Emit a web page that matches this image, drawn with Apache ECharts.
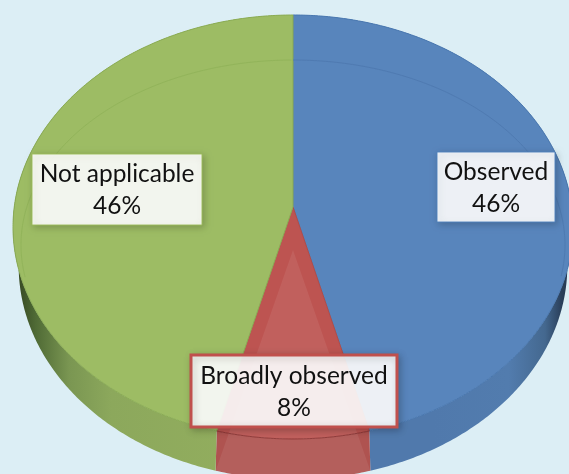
<!DOCTYPE html>
<html><head><meta charset="utf-8">
<style>html,body{margin:0;padding:0;background:#DCEEF5}#c{width:569px;height:474px}</style>
<script src="https://cdn.jsdelivr.net/npm/echarts@6/dist/echarts.min.js"></script>
</head><body><div id="c"></div>
<script>
// Data
const categories = ['Observed', 'Broadly observed', 'Not applicable'];
const shares = [46, 8, 46];
// Styling
const topColors = ['#5885BC', '#BD5451', '#9DBC64'];
const rimColors = ['#4A78B0', '#B04C49', '#8BAC55'];
const ringColors = ['#4F7AB1', '#BD5451', '#92B45A'];
const stripColors = [null, '#C25C59', null];
const wallStops = [
  [[0,'#5079AC'],[0.5,'#5079AC'],[0.77,'#527CAE'],[0.9,'#44688F'],[0.96,'#2A3F5A'],[1,'#22344C']],
  [[0,'#AF5350'],[1,'#AF5350']],
  [[0,'#2F3F1E'],[0.08,'#4F6A35'],[0.2,'#7A9652'],[0.35,'#8CA85C'],[1,'#95B05F']]
];
const labelBoxes = [
  {x:437,y:152,w:118,h:70,line:'rgba(79,129,189,0.9)',lw:1},
  {x:191,y:355,w:206,h:72,line:'#C0504D',lw:3},
  {x:32,y:154,w:170,h:71,line:'rgba(155,187,89,0.9)',lw:1}
];
const bg = '#DCEEF5';
const total = shares.reduce((a,b)=>a+b,0);
const topP = {cx:293,y0:207,A:278.75,B:210.1,k:0.0943};
const botP = {cx:293,y0:238,A:272,B:210,k:0.13};
function proj(p,a){const u=Math.sin(a),v=Math.cos(a),w=1+p.k*v;return [p.cx+p.A*u/w,p.y0-p.B*v/w];}
function arc(p,a0,a1){const n=Math.max(2,Math.ceil(Math.abs(a1-a0)/0.01)),o=[];for(let i=0;i<=n;i++)o.push(proj(p,a0+(a1-a0)*i/n));return o;}
function ringPt(a){return [293+272*Math.sin(a),245-185*Math.cos(a)];}
function renderItem(params,api){
  const i=params.dataIndex;
  let before=0;for(let j=0;j<i;j++)before+=shares[j];
  const a0=before/total*Math.PI*2, a1=(before+api.value(0))/total*Math.PI*2;
  const kids=[];
  const rimTop=arc(topP,a0,a1), rimBot=arc(botP,a1,a0);
  kids.push({type:'polygon',z2:1,shape:{points:rimTop.concat(rimBot)},
    style:{fill:new echarts.graphic.LinearGradient(0,0,1,0,wallStops[i].map(s=>({offset:s[0],color:s[1]})))}});
  kids.push({type:'polygon',z2:2,shape:{points:[[topP.cx,topP.y0]].concat(rimTop)},
    style:{fill:topColors[i],stroke:rimColors[i],lineWidth:1}});
  const lim=100/180*Math.PI, r0=Math.max(a0,0), r1=Math.min(a1,lim), r2=Math.max(a0,2*Math.PI-lim), r3=Math.min(a1,2*Math.PI);
  [[r0,r1],[r2,r3]].forEach(r=>{ if(r[1]>r[0]){const pts=[];for(let t=r[0];t<=r[1];t+=0.01)pts.push(ringPt(t));
    kids.push({type:'polyline',z2:3,shape:{points:pts},style:{fill:null,stroke:ringColors[i],lineWidth:1}});}});
  if(stripColors[i]){
    const bt=arc(botP,a0,a1);
    kids.push({type:'polygon',z2:3,shape:{points:[[topP.cx,250]].concat(bt)},style:{fill:'rgba(255,255,255,0.07)'}});
    kids.push({type:'polyline',z2:3,shape:{points:rimTop},style:{fill:null,stroke:'rgba(120,40,40,0.55)',lineWidth:1}});
  }
  const b=labelBoxes[i];
  kids.push({type:'rect',z2:5,shape:{x:b.x,y:b.y,width:b.w,height:b.h},
    style:{fill:'rgba(255,255,255,0.9)',stroke:b.line,lineWidth:b.lw,shadowBlur:7,shadowColor:'rgba(0,0,0,0.22)',shadowOffsetX:2,shadowOffsetY:2}});
  kids.push({type:'text',z2:6,x:b.x+b.w/2,y:b.y+b.h/2+1,
    style:{text:categories[i]+'\n'+api.value(0)+'%',font:'24.5px Lato',lineHeight:32,fill:'#111',align:'center',verticalAlign:'middle'}});
  return {type:'group',children:kids};
}
const chart=echarts.init(document.getElementById('c'),null,{renderer:'canvas'});
chart.setOption({
  backgroundColor:bg,animation:false,
  series:[{type:'custom',coordinateSystem:'none',renderItem:renderItem,silent:true,
    data:shares.map((v,i)=>({name:categories[i],value:[v]}))}]
});
</script></body></html>
